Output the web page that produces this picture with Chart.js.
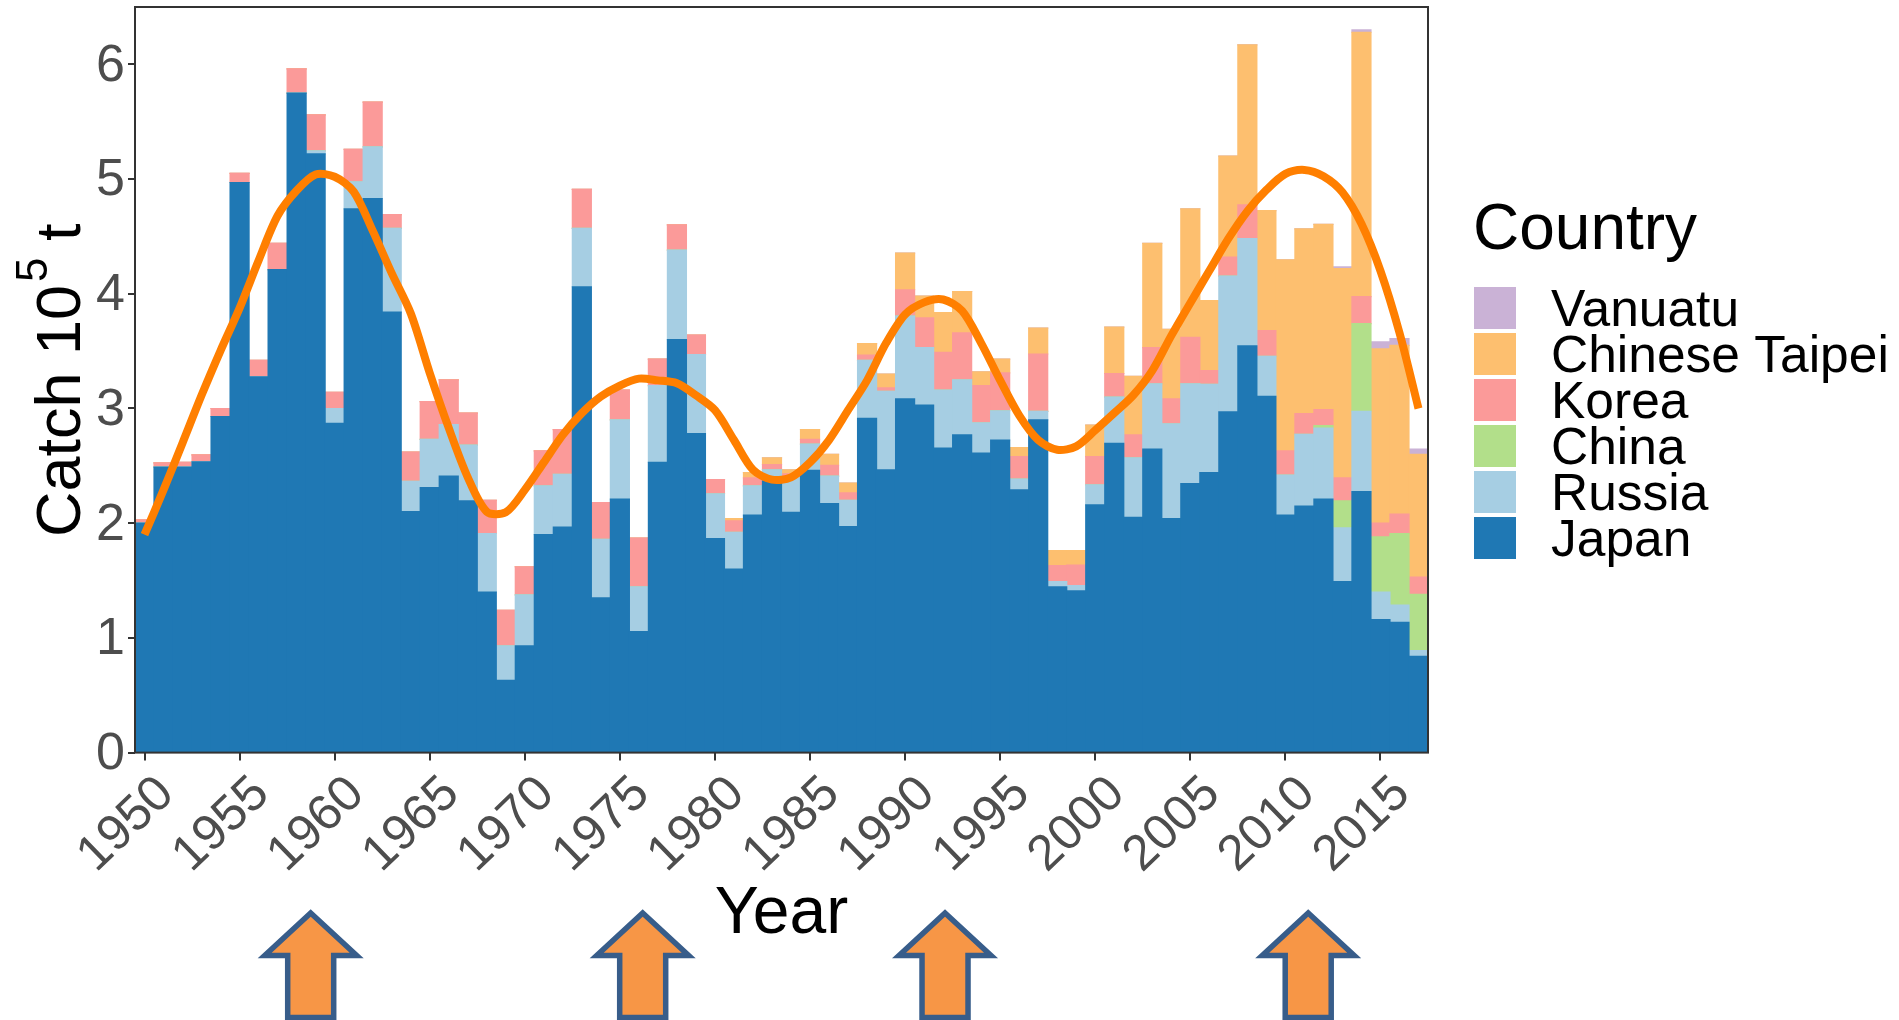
<!DOCTYPE html>
<html>
<head>
<meta charset="utf-8">
<title>Catch by country</title>
<script src="https://cdn.jsdelivr.net/npm/chart.js@4/dist/chart.umd.min.js"></script>
<style>
    html, body { margin: 0; padding: 0; background: #fff; }
    canvas { display: block; }
</style>
</head>
<body>
<canvas id="catchChart" width="1899" height="1020"></canvas>
<script>
const years = [
    1950, 1951, 1952, 1953, 1954, 1955, 1956, 1957, 1958, 1959,
    1960, 1961, 1962, 1963, 1964, 1965, 1966, 1967, 1968, 1969,
    1970, 1971, 1972, 1973, 1974, 1975, 1976, 1977, 1978, 1979,
    1980, 1981, 1982, 1983, 1984, 1985, 1986, 1987, 1988, 1989,
    1990, 1991, 1992, 1993, 1994, 1995, 1996, 1997, 1998, 1999,
    2000, 2001, 2002, 2003, 2004, 2005, 2006, 2007, 2008, 2009,
    2010, 2011, 2012, 2013, 2014, 2015, 2016, 2017
];
const tickYears = [1950, 1955, 1960, 1965, 1970, 1975, 1980, 1985, 1990, 1995, 2000, 2005, 2010, 2015];
const japan = [
    2.00, 2.49, 2.49, 2.535, 2.93, 4.97, 3.275, 4.21, 5.75, 5.22,
    2.87, 4.74, 4.83, 3.84, 2.10, 2.31, 2.41, 2.195, 1.40, 0.63,
    0.93, 1.90, 1.965, 4.06, 1.35, 2.21, 1.055, 2.53, 3.60, 2.78,
    1.865, 1.60, 2.07, 2.37, 2.095, 2.46, 2.17, 1.97, 2.915, 2.465,
    3.085, 3.03, 2.655, 2.77, 2.61, 2.725, 2.29, 2.90, 1.445, 1.41,
    2.16, 2.695, 2.05, 2.645, 2.04, 2.345, 2.44, 2.97, 3.545, 3.105,
    2.07, 2.15, 2.21, 1.49, 2.275, 1.16, 1.135, 0.84
];
const russia = [
    0, 0, 0, 0, 0, 0, 0, 0, 0, 0.025,
    0.13, 0.235, 0.45, 0.73, 0.265, 0.42, 0.45, 0.485, 0.51, 0.30,
    0.445, 0.425, 0.46, 0.51, 0.51, 0.69, 0.39, 0.67, 0.78, 0.69,
    0.39, 0.32, 0.255, 0.095, 0.305, 0.23, 0.24, 0.23, 0.505, 0.685,
    0.72, 0.50, 0.505, 0.48, 0.265, 0.255, 0.095, 0.075, 0.045, 0.045,
    0.175, 0.405, 0.52, 0.57, 0.825, 0.87, 0.77, 1.185, 0.935, 0.35,
    0.35, 0.625, 0.62, 0.47, 0.70, 0.24, 0.15, 0.05
];
const china = [
    0, 0, 0, 0, 0, 0, 0, 0, 0, 0,
    0, 0, 0, 0, 0, 0, 0, 0, 0, 0,
    0, 0, 0, 0, 0, 0, 0, 0, 0, 0,
    0, 0, 0, 0, 0, 0, 0, 0, 0, 0,
    0, 0, 0, 0, 0, 0, 0, 0, 0, 0,
    0, 0, 0, 0, 0, 0, 0, 0, 0, 0,
    0, 0, 0.02, 0.235, 0.765, 0.48, 0.625, 0.49
];
const korea = [
    0.03, 0.035, 0.04, 0.06, 0.07, 0.08, 0.145, 0.23, 0.21, 0.315,
    0.14, 0.285, 0.39, 0.12, 0.255, 0.33, 0.39, 0.28, 0.29, 0.31,
    0.245, 0.305, 0.39, 0.34, 0.32, 0.26, 0.425, 0.23, 0.22, 0.17,
    0.125, 0.10, 0.07, 0.045, 0.03, 0.04, 0.095, 0.065, 0.045, 0.03,
    0.23, 0.26, 0.33, 0.41, 0.325, 0.33, 0.195, 0.50, 0.14, 0.18,
    0.245, 0.205, 0.20, 0.315, 0.22, 0.405, 0.12, 0.165, 0.295, 0.225,
    0.21, 0.18, 0.14, 0.20, 0.235, 0.12, 0.17, 0.15
];
const chineseTaipei = [
    0, 0, 0, 0, 0, 0, 0, 0, 0, 0,
    0, 0, 0, 0, 0, 0, 0, 0, 0, 0,
    0, 0, 0, 0, 0, 0, 0, 0, 0, 0,
    0, 0.02, 0.045, 0.06, 0.035, 0.085, 0.095, 0.085, 0.10, 0.12,
    0.32, 0.19, 0.345, 0.36, 0.12, 0.12, 0.08, 0.225, 0.13, 0.125,
    0.275, 0.405, 0.51, 0.91, 0.605, 1.12, 0.61, 0.88, 1.395, 1.045,
    1.665, 1.61, 1.615, 1.825, 2.305, 1.52, 1.47, 1.07
];
const vanuatu = [
    0, 0, 0, 0, 0, 0, 0, 0, 0, 0,
    0, 0, 0, 0, 0, 0, 0, 0, 0, 0,
    0, 0, 0, 0, 0, 0, 0, 0, 0, 0,
    0, 0, 0, 0, 0, 0, 0, 0, 0, 0,
    0, 0, 0, 0, 0, 0, 0, 0, 0, 0,
    0, 0, 0, 0, 0, 0, 0, 0, 0, 0,
    0, 0, 0, 0.015, 0.02, 0.06, 0.06, 0.045
];
// smoothed total catch
const smoothed = [
    1.90, 2.29, 2.70, 3.115, 3.505, 3.875, 4.29, 4.68, 4.90, 5.04,
    5.02, 4.89, 4.55, 4.18, 3.83, 3.31, 2.83, 2.40, 2.10, 2.095,
    2.29, 2.53, 2.77, 2.96, 3.105, 3.20, 3.26, 3.245, 3.22, 3.115,
    2.985, 2.725, 2.465, 2.38, 2.40, 2.53, 2.725, 2.985, 3.245, 3.57,
    3.82, 3.925, 3.95, 3.85, 3.57, 3.245, 2.94, 2.725, 2.64, 2.67,
    2.81, 2.96, 3.115, 3.33, 3.635, 3.92, 4.20, 4.48, 4.72, 4.905,
    5.045, 5.08, 5.025, 4.885, 4.61, 4.20, 3.66, 3.00
];
// years the arrows under the axis point at
const arrowYears = [1958.74, 1976.2, 1992.1, 2011.2];

const fontFamily = '"Liberation Sans", Arial, sans-serif';

const barSet = (label, data, color) => ({
    type: 'bar',
    label: label,
    data: data,
    backgroundColor: color,
    borderWidth: 0,
    inflateAmount: 0.6,
    barPercentage: 1,
    categoryPercentage: 1,
    stack: 'catch',
    order: 2
});

// ggplot style key, top to bottom in reverse stacking order
const countryKey = {
    id: 'countryKey',
    afterDraw(chart) {
        const c = chart.ctx;
        const bars = chart.data.datasets.filter(d => d.type === 'bar').reverse();
        c.save();
        c.fillStyle = '#000';
        c.textAlign = 'left';
        c.textBaseline = 'alphabetic';
        c.font = `64px ${fontFamily}`;
        c.fillText('Country', 1473, 249);
        c.font = `51.5px ${fontFamily}`;
        bars.forEach((d, i) => {
            c.fillStyle = d.backgroundColor;
            c.fillRect(1474, 287 + i * 46, 42, 42);
            c.fillStyle = '#000';
            c.fillText(d.label, 1551, 326 + i * 46);
        });
        c.restore();
    }
};

// the scale title has no superscript, so the y title is drawn in three runs
const yAxisTitle = {
    id: 'yAxisTitle',
    afterDraw(chart) {
        const c = chart.ctx;
        c.save();
        c.translate(80, 537);
        c.rotate(-Math.PI / 2);
        c.fillStyle = '#000';
        c.textAlign = 'left';
        c.textBaseline = 'alphabetic';
        c.font = `63px ${fontFamily}`;
        c.fillText('Catch 10', 0, 0);
        c.fillText('t', 296, 0);
        c.font = `44px ${fontFamily}`;
        c.fillText('5', 255, -33);
        c.restore();
    }
};

const panelBorder = {
    id: 'panelBorder',
    afterDatasetsDraw(chart) {
        const { left, top, width, height } = chart.chartArea;
        const c = chart.ctx;
        c.save();
        c.strokeStyle = '#333333';
        c.lineWidth = 2;
        c.strokeRect(left, top, width, height);
        c.restore();
    }
};

const peakArrows = {
    id: 'peakArrows',
    afterDraw(chart) {
        const c = chart.ctx;
        const xScale = chart.scales.x;
        c.save();
        c.fillStyle = '#F79646';
        c.strokeStyle = '#385D8A';
        c.lineWidth = 5.5;
        c.lineJoin = 'miter';
        arrowYears.forEach(year => {
            const x = xScale.getPixelForValue(year - years[0]);
            c.beginPath();
            c.moveTo(x, 913);
            c.lineTo(x + 46, 955.5);
            c.lineTo(x + 23, 955.5);
            c.lineTo(x + 23, 1017.5);
            c.lineTo(x - 23, 1017.5);
            c.lineTo(x - 23, 955.5);
            c.lineTo(x - 46, 955.5);
            c.closePath();
            c.fill();
            c.stroke();
        });
        c.restore();
    }
};

new Chart(document.getElementById('catchChart').getContext('2d'), {
    data: {
        labels: years,
        datasets: [
            barSet('Japan', japan, '#1F78B4'),
            barSet('Russia', russia, '#A6CEE3'),
            barSet('China', china, '#B2DF8A'),
            barSet('Korea', korea, '#FB9A99'),
            barSet('Chinese Taipei', chineseTaipei, '#FDBF6F'),
            barSet('Vanuatu', vanuatu, '#CAB2D6'),
            {
                type: 'line',
                label: 'Smoothed',
                data: smoothed,
                borderColor: '#FF7F00',
                borderWidth: 8,
                pointRadius: 0,
                tension: 0.3,
                stack: 'smooth',
                order: 1
            }
        ]
    },
    options: {
        responsive: false,
        animation: false,
        layout: { padding: { top: 7, right: 471 } },
        plugins: {
            legend: { display: false },
            tooltip: { enabled: false }
        },
        scales: {
            x: {
                stacked: true,
                offset: true,
                grid: {
                    drawOnChartArea: false,
                    offset: false,
                    tickLength: 8,
                    tickColor: '#333333',
                    lineWidth: 2
                },
                border: { display: false },
                afterBuildTicks: (scale) => {
                    scale.ticks = scale.ticks.filter(t => tickYears.includes(years[t.value]));
                },
                afterFit: (scale) => {
                    scale.height = 267.4;
                    scale.paddingLeft = 0;
                    scale.paddingRight = 0;
                },
                ticks: {
                    autoSkip: false,
                    minRotation: 44,
                    maxRotation: 44,
                    padding: 4,
                    labelOffset: 22,
                    color: '#4D4D4D',
                    font: { family: fontFamily, size: 50 }
                },
                title: {
                    display: true,
                    text: 'Year',
                    color: '#000',
                    font: { family: fontFamily, size: 66 },
                    padding: { top: 0, bottom: 66 }
                }
            },
            y: {
                stacked: true,
                min: 0,
                max: 6.5,
                grid: {
                    drawOnChartArea: false,
                    tickLength: 7,
                    tickColor: '#333333',
                    lineWidth: 2
                },
                border: { display: false },
                afterFit: (scale) => {
                    scale.width = 135;
                    scale.paddingTop = 0;
                    scale.paddingBottom = 0;
                },
                ticks: {
                    stepSize: 1,
                    includeBounds: false,
                    padding: 3,
                    labelOffset: 2,
                    color: '#4D4D4D',
                    font: { family: fontFamily, size: 52 }
                }
            }
        }
    },
    plugins: [panelBorder, yAxisTitle, countryKey, peakArrows]
});
</script>
</body>
</html>
